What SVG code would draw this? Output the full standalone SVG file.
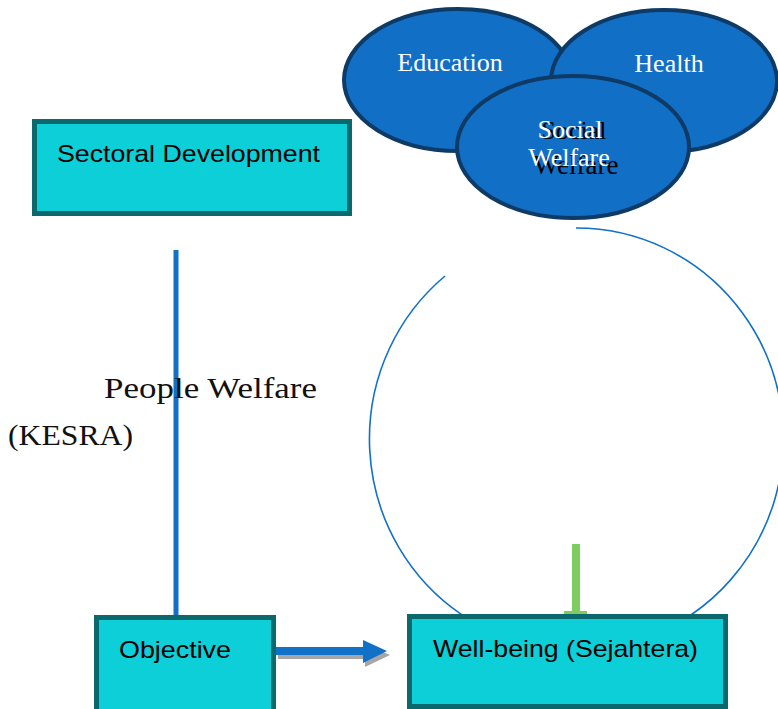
<svg xmlns="http://www.w3.org/2000/svg" width="778" height="709" viewBox="0 0 778 709">
  <style>
    .box { fill: #0ccfd7; stroke: #0b686c; stroke-width: 5; }
    .boxtext { font-family: "Liberation Sans", "Open Sans", sans-serif; font-size: 24px; fill: #000; }
    .oval { fill: #126fc6; stroke: #0e3a66; stroke-width: 4; }
    .ovaltext { font-family: "Liberation Serif", "Times New Roman", serif; font-size: 26px; fill: #ffffff; }
    .shadowtext { font-family: "Liberation Serif", "Times New Roman", serif; fill: #000; }
    .label { font-family: "Liberation Serif", "Palatino Linotype", serif; font-size: 29px; fill: #111; }
  </style>

  <!-- connectors -->
  <g id="connectors">
    <!-- sectoral development down to objective -->
    <line x1="176" y1="250" x2="176" y2="617" stroke="#1170c8" stroke-width="5"/>
    <!-- large open circle around the well-being box -->
    <path d="M 576 228 A 207 211 0 1 1 445 276" fill="none" stroke="#1170c8" stroke-width="1.6"/>
    <!-- green pointer into well-being -->
    <rect x="572" y="544" width="8" height="70" fill="#7ccc5f"/>
    <rect x="564" y="611" width="23" height="4" fill="#7ccc5f"/>
    <!-- objective to well-being arrow, with drop shadow -->
    <polygon points="278,651 365,651 365,644 390,655 365,667 365,659 278,659" fill="#a6a6a6"/>
    <polygon points="276,647 363,647 363,640 387,651 363,663 363,655 276,655" fill="#1170c8"/>
  </g>

  <!-- welfare sectors -->
  <g id="education">
    <ellipse class="oval" cx="458" cy="80" rx="114" ry="71"/>
    <text class="ovaltext" x="450" y="71" text-anchor="middle">Education</text>
  </g>
  <g id="health">
    <ellipse class="oval" cx="664" cy="81" rx="113" ry="71"/>
    <text class="ovaltext" x="669" y="72" text-anchor="middle">Health</text>
  </g>
  <g id="social-welfare">
    <ellipse class="oval" cx="573" cy="147" rx="116" ry="71"/>
    <!-- dark under-layer of the label, drawn slightly larger and lower -->
    <text class="shadowtext" font-size="26" x="574" y="139" text-anchor="middle">Social</text>
    <text class="shadowtext" font-size="27" x="576" y="174" text-anchor="middle">Welfare</text>
    <text class="ovaltext" font-size="25" x="570" y="138" text-anchor="middle">Social</text>
    <text class="ovaltext" font-size="25" x="569" y="166" text-anchor="middle">Welfare</text>
  </g>

  <g id="sectoral-development">
    <rect class="box" x="34.5" y="121.5" width="315" height="92"/>
    <text class="boxtext" x="57" y="162" textLength="263" lengthAdjust="spacingAndGlyphs">Sectoral Development</text>
  </g>

  <g id="people-welfare">
    <text class="label" x="104" y="398" textLength="213" lengthAdjust="spacingAndGlyphs">People Welfare</text>
    <text class="label" x="8" y="445" textLength="125" lengthAdjust="spacingAndGlyphs">(KESRA)</text>
  </g>

  <g id="objective">
    <rect class="box" x="96.5" y="617.5" width="177" height="100"/>
    <text class="boxtext" x="119" y="658" textLength="112" lengthAdjust="spacingAndGlyphs">Objective</text>
  </g>

  <g id="well-being">
    <rect class="box" x="409.5" y="616.5" width="316" height="90"/>
    <text class="boxtext" x="433" y="657" textLength="265" lengthAdjust="spacingAndGlyphs">Well-being (Sejahtera)</text>
  </g>
</svg>
